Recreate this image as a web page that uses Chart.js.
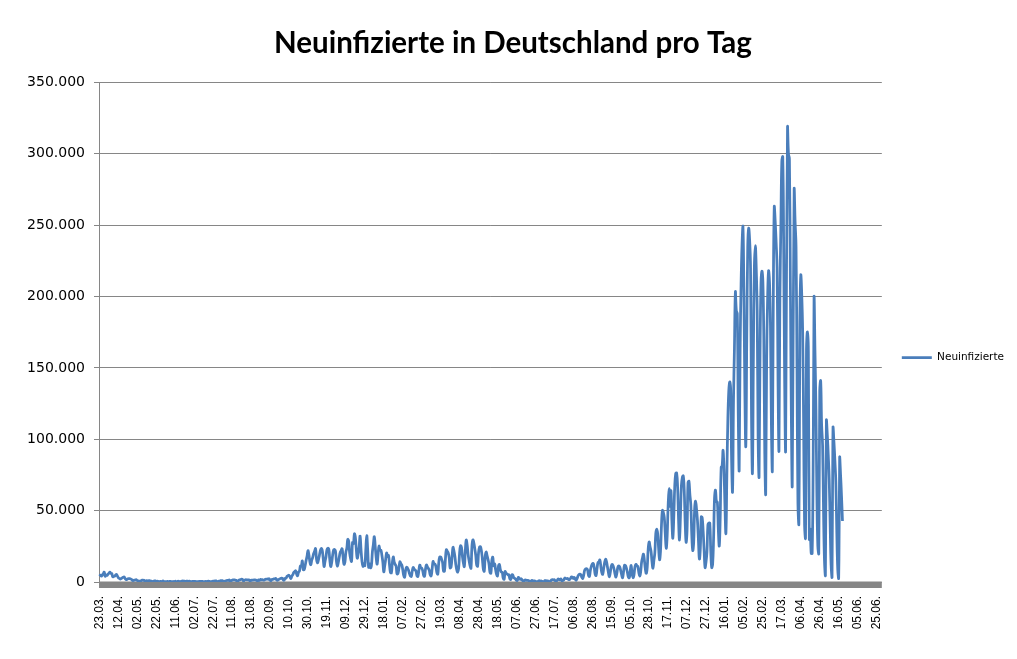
<!DOCTYPE html>
<html>
<head>
  <title>Neuinfizierte in Deutschland pro Tag</title>
  <script src="https://cdn.jsdelivr.net/npm/chart.js"></script>
  <style>
    body {
      margin: 0;
      background-color: #fff;
    }
  </style>
</head>
<body>
  <canvas id="casesChart" width="1017" height="659"></canvas>

  <script>
    // Daily dates from 23.03.2020, a few dates are missing in the source table
    const startDate = new Date(2020, 2, 23);
    const missingDates = ['21.06.2020', '07.10.2021', '08.10.2021', '09.10.2021'];
    const categoryCount = 826;

    const tickLabels = [
      '23.03.', '12.04.', '02.05.', '22.05.', '11.06.', '02.07.', '22.07.', '11.08.', '31.08.', '20.09.',
      '10.10.', '30.10.', '19.11.', '09.12.', '29.12.', '18.01.', '07.02.', '27.02.', '19.03.', '08.04.',
      '28.04.', '18.05.', '07.06.', '27.06.', '17.07.', '06.08.', '26.08.', '15.09.', '05.10.', '28.10.',
      '17.11.', '07.12.', '27.12.', '16.01.', '05.02.', '25.02.', '17.03.', '06.04.', '26.04.', '16.05.',
      '05.06.', '25.06.'
    ];

    // one line per week (Mon..Sun)
    const neuinfizierte = [
      4062, 4764, 4118, 4954, 5780, 6900, 3965,            // 23.03.2020
      4751, 4615, 5453, 6156, 6900, 6082, 5936,
      3677, 3834, 4003, 4974, 5323, 4133, 2821,
      2537, 2082, 2486, 2866, 3380, 3609, 2458,
      1775, 1785, 2237, 2352, 2337, 2055, 1737,
      1018, 1144, 1304, 1478, 1639, 945, 793,
      697, 685, 947, 1284, 1209, 1251, 667,
      357, 933, 798, 933, 913, 620, 583,
      342, 513, 797, 745, 460, 638, 431,
      289, 432, 362, 353, 741, 286, 333,
      213, 342, 353, 242, 394, 407, 301,                 // 01.06.2020
      214, 350, 318, 555, 192, 247, 687,
      192, 378, 345, 580, 770, 601,
      537, 503, 587, 630, 477, 687, 256,
      262, 466, 503, 446, 422, 239, 219,
      297, 397, 442, 442, 395, 378, 159,
      285, 361, 351, 534, 583, 421, 249,
      202, 454, 569, 569, 815, 781, 305,
      340, 633, 684, 902, 870, 955, 240,
      509, 741, 1045, 1147, 1122, 1415, 436,             // 03.08.2020
      966, 1226, 1445, 1449, 1417, 1232, 625,
      561, 1390, 1510, 1707, 2034, 1737, 711,
      1278, 1576, 1571, 1507, 1479, 1479, 610,
      1218, 1256, 1311, 1453, 1484, 1378, 988,
      814, 1499, 1176, 1892, 1484, 1630, 1345,
      1407, 1901, 1916, 2194, 1916, 2297, 1345,
      922, 1769, 1769, 2143, 2153, 2507, 1411,
      1192, 1798, 2089, 2503, 2673, 2563, 1382,
      1382, 2639, 2828, 4058, 4516, 4721, 3483,          // 05.10.2020
      2467, 4122, 5132, 6638, 7334, 7830, 5587,
      4325, 6868, 7595, 11287, 11242, 14714, 8685,
      8685, 11409, 14964, 18000, 22000, 19059, 14177,
      12097, 15352, 17214, 19990, 21506, 23399, 16017,
      13363, 15332, 18487, 21866, 23542, 22461, 16947,
      10824, 14419, 17561, 22609, 23648, 22964, 15741,
      10864, 13554, 18633, 22268, 22806, 21695, 14611,
      11169, 13604, 17270, 20815, 22046, 23318, 17767,   // 30.11.2020
      12332, 14054, 20815, 23679, 29875, 28438, 20200,
      16362, 14432, 27728, 26923, 33777, 31300, 22771,
      16643, 19528, 24740, 32195, 22459, 14455, 10976,
      12892, 11409, 22459, 32552, 22924, 10315, 12690,
      9847, 11897, 21237, 26391, 31849, 24694, 16946,    // 04.01.2021
      12497, 19600, 25164, 22368, 22258, 18678, 13882,
      7141, 11369, 15974, 20398, 17862, 18600, 12257,
      6729, 6408, 13202, 17553, 14022, 12321, 11192,
      5608, 6114, 9705, 14211, 12908, 11912, 8616,
      4535, 3379, 8072, 10237, 9860, 8354, 6114,
      4426, 3856, 7556, 10207, 9113, 8354, 7676,
      4369, 3883, 8007, 11869, 9997, 9762, 8103,
      4732, 3943, 9019, 11912, 10580, 9557, 8103,        // 01.03.2021
      5011, 4252, 9146, 14356, 12834, 12674, 10790,
      6604, 5480, 13435, 17504, 17482, 16033, 13733,
      7709, 7485, 15813, 22657, 21573, 20472, 17176,
      9872, 10550, 17051, 24300, 21888, 18129, 12196,
      8497, 6885, 9677, 20407, 25464, 24097, 17855,
      13245, 10810, 21693, 29426, 25831, 19185, 15000,
      11437, 9609, 24884, 29518, 27543, 23392, 18773,
      11907, 10976, 20620, 24329, 24736, 21865, 16290,
      9160, 7534, 18034, 21000, 18485, 15685, 12656,     // 03.05.2021
      6922, 6125, 14909, 17419, 11336, 12656, 8500,
      5412, 4209, 11040, 12298, 8769, 7082, 6714,
      2682, 1911, 7380, 6313, 5705, 5008, 5001,
      2219, 1785, 4917, 5074, 3165, 2642, 2016,
      1117, 1204, 3254, 2440, 1911, 2294, 1489,
      549, 652, 1455, 1330, 1108, 1076, 842,
      346, 323, 1016, 1020, 706, 808, 538,
      219, 212, 649, 970, 615, 745, 467,
      216, 297, 985, 949, 744, 867, 546,                 // 05.07.2021
      230, 646, 1548, 1642, 1456, 1608, 746,
      546, 1183, 2203, 1890, 1526, 2089, 773,
      1168, 1545, 2768, 2454, 2400, 2418, 1686,
      1766, 2480, 3571, 3448, 2454, 3209, 1936,
      1183, 2480, 4292, 5300, 5500, 5070, 3188,
      2480, 4999, 8324, 9200, 9280, 8416, 4720,
      3912, 8214, 10954, 12626, 12969, 10303, 5541,
      4559, 9385, 13523, 14200, 15400, 11000, 6726,
      5373, 9385, 13565, 16000, 14251, 10453, 6726,      // 06.09.2021
      3626, 6726, 11022, 12345, 11286, 8901, 5511,
      3416, 6325, 10454, 11304, 10419, 8014, 4960,
      2962, 7228, 11780, 11491, 9727, 6936, 3650,
      2900, 7500, 11600, 6000,
      3000, 4971, 10454, 12382, 11518, 10949, 7000,
      4056, 6771, 13732, 17015, 19572, 15145, 9000,
      6000, 10473, 23212, 28037, 24668, 21543, 14280,
      9658, 15000, 20398, 33949, 37120, 34002, 23543,    // 01.11.2021
      15513, 21832, 39676, 50196, 48640, 45081, 33498,
      23607, 32048, 52826, 65371, 52970, 63924, 42727,
      30643, 45326, 66884, 75961, 76414, 67125, 44401,
      29364, 45753, 67186, 73209, 74352, 64510, 42055,
      27836, 36059, 69601, 70611, 61288, 53697, 32646,
      22000, 27726, 51301, 56677, 50968, 42770, 29348,
      16086, 23428, 45659, 44927, 35431, 22214, 10100,
      13908, 21080, 40043, 41240, 41270, 22000, 10100,
      12500, 30561, 58912, 64340, 56335, 55889, 36552,   // 03.01.2022
      25255, 45690, 80430, 81417, 92223, 78022, 52504,
      34145, 74405, 112323, 133536, 140160, 135461, 85440,
      63393, 126955, 164000, 203136, 190148, 188000, 118970,
      78318, 162613, 208498, 236120, 248838, 200000, 133000,
      95267, 169571, 234250, 247862, 240172, 220000, 117000,
      76465, 159217, 219972, 235626, 220048, 190000, 100000,
      74000, 158414, 209052, 217815, 210743, 170000, 90000,
      62000, 156000, 198888, 218000, 210000, 180000, 110000,   // 28.02.2022
      78428, 198000, 262752, 252836, 238000, 220000, 140000,
      92378, 200000, 250000, 294931, 297845, 230000, 140000,
      92314, 222080, 318387, 300000, 296498, 210000, 120000,
      67501, 180000, 274901, 252530, 235000, 150000, 55000,
      41000, 180397, 214985, 201729, 175000, 110000, 40000,
      31000, 162790, 175263, 161718, 30000, 37000, 20000,
      20000, 77000, 199000, 161000, 121000, 60000, 25000,
      20000, 134000, 141000, 110000, 96000, 50000, 15000,
      5000, 113000, 103000, 89000, 72000, 40000, 12000,  // 02.05.2022
      3700, 108000, 98000, 85000, 70000, 35000, 9000,
      2800, 87000, 75000, 60000, 42700
    ];

    const categories = [];
    for (let d = new Date(startDate); categories.length < categoryCount; d.setDate(d.getDate() + 1)) {
      const dd = String(d.getDate()).padStart(2, '0');
      const mm = String(d.getMonth() + 1).padStart(2, '0');
      if (missingDates.includes(dd + '.' + mm + '.' + d.getFullYear())) continue;
      categories.push(dd + '.' + mm + '.');
    }

    function formatNumber(v) {
      return String(v).replace(/\B(?=(\d{3})+(?!\d))/g, '.');
    }

    // thick grey bar under the zero line
    const axisBand = {
      id: 'axisBand',
      beforeDatasetsDraw(chart) {
        const { ctx, chartArea } = chart;
        ctx.save();
        ctx.fillStyle = '#868686';
        ctx.fillRect(chartArea.left, chartArea.bottom - 0.5, chartArea.right - chartArea.left, 6.5);
        ctx.restore();
      }
    };

    const ctx = document.getElementById('casesChart').getContext('2d');
    const chart = new Chart(ctx, {
      type: 'line',
      data: {
        labels: categories,
        datasets: [{
          label: 'Neuinfizierte',
          data: neuinfizierte,
          borderColor: '#4a7ebb',
          backgroundColor: '#4a7ebb',
          borderWidth: 2.75,
          pointRadius: 0,
          tension: 0.4,
          fill: false
        }]
      },
      options: {
        responsive: false,
        animation: false,
        layout: {
          padding: { left: 12, right: 3, top: 0, bottom: 0 }
        },
        plugins: {
          title: {
            display: true,
            text: 'Neuinfizierte in Deutschland pro Tag',
            color: '#000',
            font: { family: 'Lato', size: 29.5, weight: 'bold' },
            padding: { top: 26, bottom: 21 }
          },
          legend: {
            position: 'right',
            // empty title only pushes the entry down to the middle of the plot
            title: { display: true, text: '', padding: { top: 0, bottom: 41.6 } },
            labels: {
              usePointStyle: true,
              pointStyle: 'line',
              pointStyleWidth: 30,
              padding: 20,
              color: '#000',
              font: { family: 'DejaVu Sans', size: 10.5 }
            }
          },
          tooltip: { enabled: false }
        },
        scales: {
          x: {
            offset: true,
            grid: { display: false, drawTicks: false },
            border: { display: false },
            ticks: {
              autoSkip: false,
              minRotation: 90,
              maxRotation: 90,
              padding: 14,
              color: '#000',
              font: { family: 'Liberation Sans', size: 12 },
              callback: (value, index) => index % 20 === 0 ? tickLabels[index / 20] : null
            },
            afterFit: scale => { scale.height = 77; }
          },
          y: {
            min: 0,
            max: 350000,
            ticks: {
              stepSize: 50000,
              padding: 9,
              color: '#000',
              font: { family: 'DejaVu Sans', size: 14 },
              callback: value => formatNumber(value)
            },
            grid: { color: '#868686', tickLength: 5 },
            border: { color: '#868686' },
            afterFit: scale => { scale.width = 87; }
          }
        }
      },
      plugins: [axisBand]
    });
  </script>
</body>
</html>
